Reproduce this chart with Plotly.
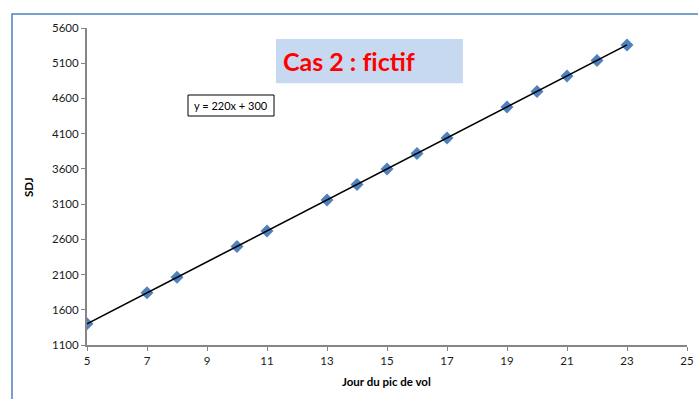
import numpy as np
import plotly.graph_objects as go

# Day of flight peak vs. degree-days (SDJ)
jour = [5, 7, 8, 10, 11, 13, 14, 15, 16, 17, 19, 20, 21, 22, 23]
sdj = [1400, 1840, 2060, 2500, 2720, 3160, 3380, 3600, 3820, 4040, 4480, 4700, 4920, 5140, 5360]

x_ticks = list(range(5, 26, 2))
y_ticks = list(range(1100, 5601, 500))

# Linear trend through the points
slope, intercept = np.polyfit(jour, sdj, 1)
fit_x = np.array([min(jour), max(jour)])
fit_y = slope * fit_x + intercept
eq_text = f"y = {slope:.0f}x + {intercept:.0f}"

# zero-width non-joiner keeps "f" and "i" as separate glyphs
title_text = "<b>Cas 2 : f\u200cictif</b>"

FONT = "Lato, Carlito, Calibri, sans-serif"
AXIS_GREY = "#868686"

fig = go.Figure()
fig.add_trace(go.Scatter(
    x=jour, y=sdj, mode="markers",
    marker=dict(symbol="diamond", size=10, color="#4F81BD",
                line=dict(width=0)),
    showlegend=False, hoverinfo="x+y",
))
fig.add_trace(go.Scatter(
    x=fit_x, y=fit_y, mode="lines",
    line=dict(color="black", width=1.6),
    showlegend=False, hoverinfo="skip",
))

fig.update_layout(
    width=698, height=399,
    margin=dict(l=87, r=11, t=28, b=54, autoexpand=False),
    paper_bgcolor="white", plot_bgcolor="white",
    font=dict(family=FONT, size=11.5, color="#1a1a1a"),
    xaxis=dict(
        range=[5, 25], tickvals=x_ticks, showgrid=False, zeroline=False,
        showline=True, linecolor=AXIS_GREY, linewidth=2, automargin=False,
        ticks="outside", ticklen=4, tickcolor=AXIS_GREY, tickwidth=1,
    ),
    yaxis=dict(
        range=[1100, 5600], tickvals=y_ticks, showgrid=False, zeroline=False,
        showline=True, linecolor=AXIS_GREY, linewidth=2, automargin=False,
        ticks="outside", ticklen=4, tickcolor=AXIS_GREY, tickwidth=1,
    ),
    shapes=[
        # chart frame
        dict(type="rect", xref="paper", yref="paper",
             x0=-0.125, x1=1.06, y0=-0.4, y1=1.044,
             line=dict(color="#4F81BD", width=1.5), fillcolor="rgba(0,0,0,0)",
             layer="below"),
        # title panel
        dict(type="rect", xref="paper", yref="paper",
             x0=0.315, x1=0.6265, y0=0.826, y1=0.965,
             line=dict(width=0), fillcolor="#C6D9F1", layer="below"),
        # equation box
        dict(type="rect", xref="paper", yref="paper",
             x0=(188 - 87) / 600, x1=(274 - 87) / 600,
             y0=(345 - 116) / 317, y1=(345 - 95) / 317,
             line=dict(color="black", width=1), fillcolor="white"),
    ],
    annotations=[
        dict(text=title_text, xref="paper", yref="paper",
             x=(349 - 87) / 600, y=(345 - 61) / 317,
             showarrow=False, font=dict(family=FONT, size=25, color="#FF0000"),
             xanchor="center", yanchor="middle"),
        dict(text=eq_text, xref="paper", yref="paper",
             x=(231 - 87) / 600, y=(345 - 105.5) / 317,
             showarrow=False, font=dict(family=FONT, size=11, color="black"),
             xanchor="center", yanchor="middle"),
        dict(text="<b>SDJ</b>", xref="paper", yref="paper",
             x=(28 - 87) / 600, y=(345 - 187) / 317, textangle=-90,
             showarrow=False, font=dict(family=FONT, size=11.5, color="black"),
             xanchor="center", yanchor="middle"),
        dict(text="<b>Jour du pic de vol</b>", xref="paper", yref="paper",
             x=(386 - 87) / 600, y=(345 - 381) / 317,
             showarrow=False, font=dict(family=FONT, size=11.5, color="black"),
             xanchor="center", yanchor="middle"),
    ],
)

fig.write_html("out.html")
